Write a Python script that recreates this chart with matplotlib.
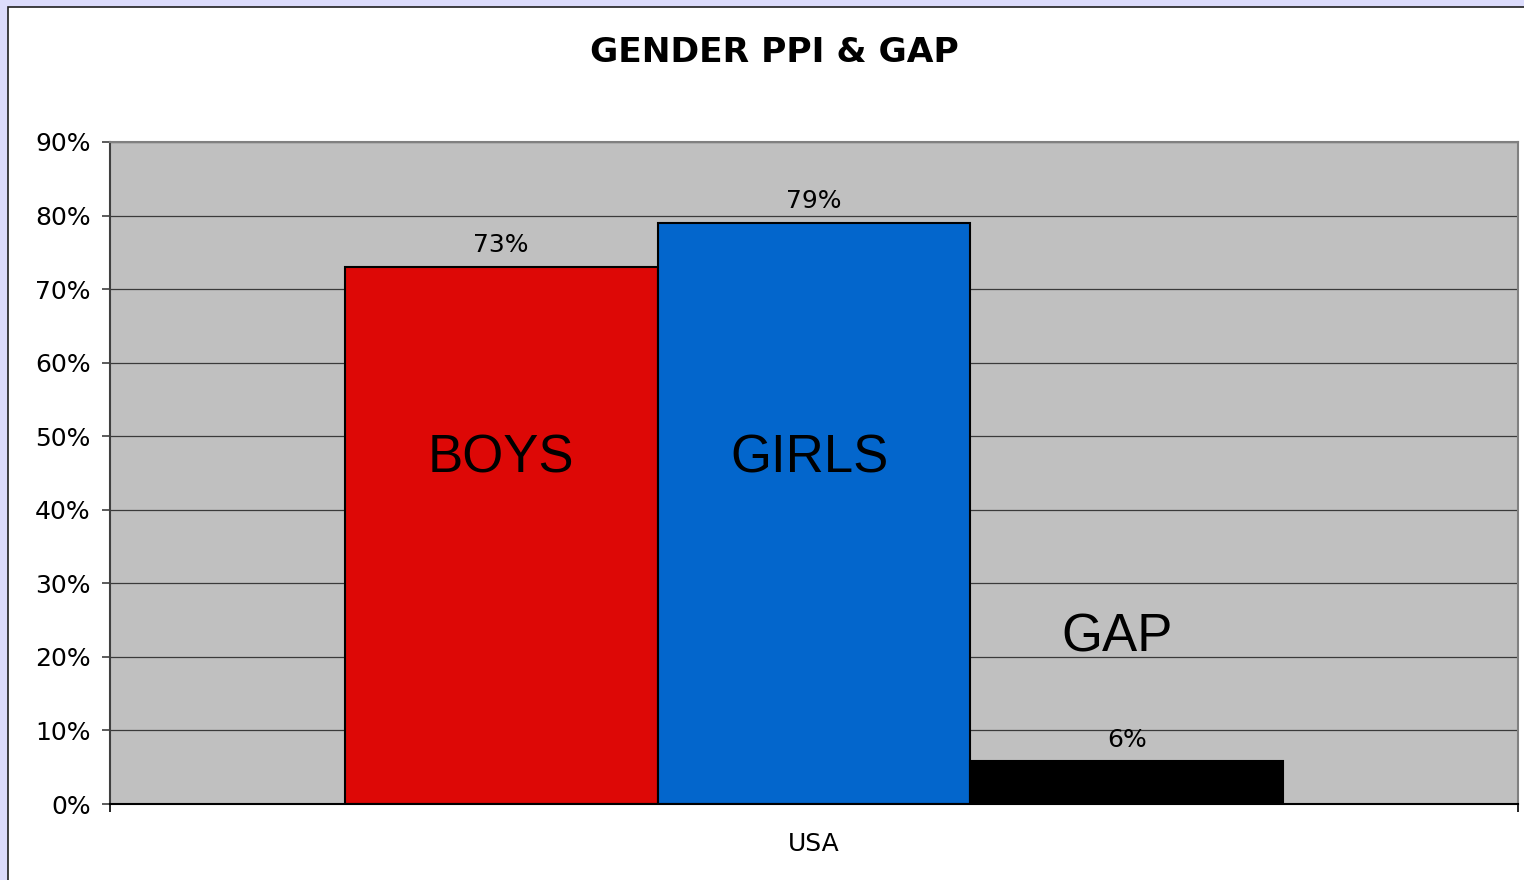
import numpy as np
import matplotlib
matplotlib.use("Agg")
import matplotlib.pyplot as plt
from matplotlib.patches import Rectangle
from matplotlib.ticker import FuncFormatter

# data
categories = ['USA']
series = ['BOYS', 'GIRLS', 'GAP']
values = [0.73, 0.79, 0.058]
colors = ['#DD0806', '#0366CC', '#000000']
yticks = [0.0, 0.1, 0.2, 0.3, 0.4, 0.5, 0.6, 0.7, 0.8, 0.9]
title = 'GENDER PPI & GAP'

W, H, DPI = 1524, 880, 100
fig = plt.figure(figsize=(W / DPI, H / DPI), dpi=DPI, facecolor='#DCDCFC')

# white chart panel running off the right/bottom edge
panel = Rectangle((8 / W, -0.05), 1.1, 1 - 7 / H + 0.05, transform=fig.transFigure,
                  facecolor='white', edgecolor='#202020', linewidth=1.2, zorder=0)
fig.add_artist(panel)

ax = fig.add_axes([110 / W, 76 / H, 1408 / W, 662 / H])
ax.set_facecolor('#C0C0C0')
ax.set_axisbelow(True)

n = len(series)
bw = 1.0 / (n + 1.5)
offsets = (np.arange(n) - (n - 1) / 2) * bw
for i, (name, v, c) in enumerate(zip(series, values, colors)):
    x = offsets[i]
    ax.bar(x, v, width=bw, color=c, edgecolor='black', linewidth=1.5, zorder=2)
    ax.annotate('{:.0%}'.format(v), (x, v), xytext=(0, 7), textcoords='offset points',
                ha='center', va='bottom', fontsize=18, color='black', zorder=3)

# series names written inside the chart
ax.text(offsets[0], 0.47, series[0], ha='center', va='center', fontsize=38,
        family='Liberation Sans', zorder=3)
ax.text(offsets[1] - 0.003, 0.47, series[1], ha='center', va='center', fontsize=38,
        family='Liberation Sans', zorder=3)
ax.text(offsets[2] - 0.007, 0.226, series[2], ha='center', va='center', fontsize=38,
        family='Liberation Sans', zorder=3)

ax.set_xlim(-0.5, 0.5)
ax.set_ylim(0, 0.9)
ax.set_yticks(yticks)
ax.yaxis.set_major_formatter(FuncFormatter(lambda y, p: '{:.0%}'.format(y)))
ax.yaxis.grid(True, color='#3a3a3a', linewidth=0.9)
ax.tick_params(axis='y', direction='out', length=6, width=1.2, color='#404040',
               labelsize=18, pad=8)

ax.set_xticks([0])
ax.set_xticklabels(categories)
ax.tick_params(axis='x', which='major', length=0, labelsize=18, pad=20)
ax.set_xticks([-0.5, 0.5], minor=True)
ax.tick_params(axis='x', which='minor', direction='out', length=6, width=1.2, color='black')

for side, col in [('top', '#808080'), ('right', '#808080'), ('left', '#404040'), ('bottom', 'black')]:
    ax.spines[side].set_color(col)
    ax.spines[side].set_linewidth(1.5)

fig.text(774 / W, 1 - 53 / H, title, ha='center', va='center', fontsize=24.8, fontweight='bold')

fig.savefig('out.png', dpi=DPI, facecolor=fig.get_facecolor())
